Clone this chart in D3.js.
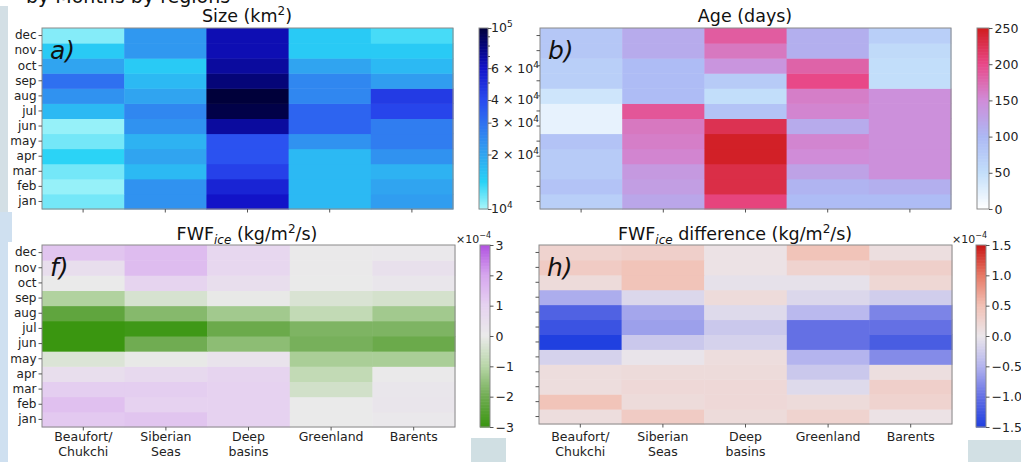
<!DOCTYPE html>
<html>
<head>
<meta charset="utf-8">
<script src="https://cdn.jsdelivr.net/npm/d3@7"></script>
<style>
  body { margin: 0; background: #fff; }
  svg { display: block; font-family: "DejaVu Sans", sans-serif; }
</style>
</head>
<body>
<script>
// months from bottom (jan) to top (dec)
const months = ['jan', 'feb', 'mar', 'apr', 'may', 'jun', 'jul', 'aug', 'sep', 'oct', 'nov', 'dec'];
const regions = ['Beaufort/\nChukchi', 'Siberian\nSeas', 'Deep\nbasins', 'Greenland', 'Barents'];

// a) size (km2), one row per month, columns = regions
const sizeVals = [
  [11500, 23000, 60000, 17000, 21000],
  [10500, 23000, 53000, 17000, 20000],
  [11500, 17000, 43000, 17000, 18000],
  [14000, 20000, 38000, 17000, 23000],
  [11500, 18000, 38000, 23000, 27000],
  [10500, 23000, 70000, 33000, 27000],
  [17000, 25000, 95000, 33000, 42000],
  [23000, 20000, 100000, 25000, 45000],
  [30000, 17000, 80000, 25000, 21000],
  [20000, 15000, 70000, 20000, 17000],
  [15000, 22000, 65000, 15000, 15000],
  [11000, 22000, 65000, 15000, 13000]
];

// b) age (days)
const ageVals = [
  [70, 120, 205, 95, 95],
  [85, 130, 230, 105, 110],
  [75, 135, 230, 125, 145],
  [75, 155, 245, 150, 145],
  [85, 160, 245, 155, 145],
  [20, 165, 225, 115, 145],
  [20, 190, 85, 155, 145],
  [40, 95, 50, 160, 145],
  [70, 95, 75, 200, 50],
  [70, 95, 140, 180, 50],
  [80, 115, 165, 110, 55],
  [80, 115, 185, 110, 70]
];

// f) FWF ice (x1e-4 kg/m2/s)
const fwfVals = [
  [1.2, 1.3, 1.0, 0, 0.1],
  [1.4, 1.0, 1.0, 0, 0.2],
  [1.1, 1.1, 1.0, -0.5, 0.15],
  [0.5, 0.7, 0.9, -0.8, 0.05],
  [-0.3, -0.05, 0.3, -1.2, -1.2],
  [-3, -2.0, -1.6, -1.9, -2.1],
  [-3, -2.9, -2.1, -1.8, -1.8],
  [-2.3, -1.7, -1.3, -0.8, -1.3],
  [-1.1, -0.4, -0.05, -0.35, -0.45],
  [0, 0.9, 0.5, 0, 0.15],
  [0.5, 1.5, 0.8, 0.05, 0.4],
  [1.3, 1.5, 0.8, 0.05, 0.1]
];

// h) FWF ice difference (x1e-4 kg/m2/s)
const fwfDiffVals = [
  [0.12, 0.35, 0.15, 0.25, 0.05],
  [0.45, 0.15, 0.18, 0.15, 0.25],
  [0.12, 0.18, 0.18, -0.12, 0.3],
  [0.12, 0.15, 0.15, -0.3, 0.1],
  [-0.2, -0.02, 0.12, -0.5, -0.8],
  [-1.5, -0.3, -0.2, -1.0, -1.2],
  [-1.3, -0.65, -0.3, -1.0, -1.0],
  [-1.15, -0.6, -0.12, -0.45, -0.85],
  [-0.55, -0.15, 0.15, -0.15, -0.25],
  [0.15, 0.45, -0.05, -0.05, 0.2],
  [0.35, 0.45, 0.05, 0.25, 0.3],
  [0.25, 0.3, 0.05, 0.45, 0.1]
];

const sizeTicks = [10000, 20000, 30000, 40000, 60000, 100000];
const sizeTickLabels = [['', '10', '4'], ['2 × ', '10', '4'], ['3 × ', '10', '4'], ['4 × ', '10', '4'], ['6 × ', '10', '4'], ['', '10', '5']];
const sizeMinor = [50000, 70000, 80000, 90000];
const ageTicks = [0, 50, 100, 150, 200, 250];
const fwfTicks = [-3, -2, -1, 0, 1, 2, 3];
const diffTicks = [-1.5, -1.0, -0.5, 0.0, 0.5, 1.0, 1.5];

const width = 1021, height = 462;

const svg = d3.select('body').append('svg')
  .attr('width', width)
  .attr('height', height);

// fond : bandes de la capture
svg.append('rect').attr('x', 0).attr('y', 6).attr('width', 8).attr('height', 208).attr('fill', '#d3dfe5');
svg.append('rect').attr('x', 0).attr('y', 212).attr('width', 8).attr('height', 250).attr('fill', '#cfe0f0');
svg.append('rect').attr('x', 8).attr('y', 212).attr('width', 4).attr('height', 30).attr('fill', '#cfe0f0');
svg.append('rect').attr('x', 471).attr('y', 438).attr('width', 35).attr('height', 24).attr('fill', '#d0dfe3');
svg.append('rect').attr('x', 968).attr('y', 440).attr('width', 53).attr('height', 22).attr('fill', '#d2e0e4');

// texte coupé en haut (comme sur la capture)
svg.append('text')
  .attr('x', 26).attr('y', 3)
  .attr('font-size', 19)
  .attr('fill', '#111')
  .text('by Months by regions');

// échelles de couleur
const sizeT = d3.scaleLog().domain([1e4, 1e5]).range([0, 1]);
const sizeRamp = d3.scaleLinear()
  .domain([0, 0.15, 0.3, 0.45, 0.6, 0.78, 0.9, 1])
  .range(['#a8f6fa', '#28d2f6', '#30a4f0', '#3078f0', '#2a4cf0', '#1212c8', '#05057a', '#00003a']);
const sizeColor = v => sizeRamp(sizeT(v));

const ageColor = d3.scaleLinear()
  .domain([0, 50, 100, 150, 200, 250])
  .range(['#ffffff', '#c2defa', '#acb8f4', '#d08cd8', '#e84888', '#d01c1c'])
  .clamp(true);

const fwfColor = d3.scaleLinear()
  .domain([-3, -2, -1, 0, 1, 2, 3])
  .range(['#3a9610', '#70ac52', '#b8d6a8', '#eaeaea', '#e6d2f0', '#d6a6ee', '#b050e0'])
  .clamp(true);

const diffColor = d3.scaleLinear()
  .domain([-1.5, -1, -0.5, 0, 0.5, 1, 1.5])
  .range(['#2040e0', '#6470e4', '#b4b4ee', '#ebe6ea', '#f2c0b4', '#e67864', '#c81414'])
  .clamp(true);

const panels = [
  { vals: sizeVals, color: sizeColor, x0: 42, x1: 453, y0: 28, y1: 209, label: 'a)', yLabels: true, xLabels: false,
    cb: { x: 479, w: 9, y0: 28, y1: 209, scale: d3.scaleLog().domain([1e4, 1e5]), ticks: sizeTicks, labels: sizeTickLabels, minor: sizeMinor } },
  { vals: ageVals, color: ageColor, x0: 540, x1: 951, y0: 28, y1: 209, label: 'b)', yLabels: false, xLabels: false,
    cb: { x: 977, w: 12, y0: 28, y1: 209, scale: d3.scaleLinear().domain([0, 250]), ticks: ageTicks, fmt: d => d } },
  { vals: fwfVals, color: fwfColor, x0: 42, x1: 455, y0: 245, y1: 427, label: 'f)', yLabels: true, xLabels: true,
    cb: { x: 480, w: 10, y0: 245, y1: 427, scale: d3.scaleLinear().domain([-3, 3]), ticks: fwfTicks, fmt: d => d3.format('d')(d).replace('-', '\u2212'), exp: true } },
  { vals: fwfDiffVals, color: diffColor, x0: 539, x1: 952, y0: 245, y1: 424, label: 'h)', yLabels: false, xLabels: true,
    cb: { x: 976, w: 10, y0: 245, y1: 427, scale: d3.scaleLinear().domain([-1.5, 1.5]), ticks: diffTicks, fmt: d => d3.format('.1f')(d).replace('-', '\u2212'), exp: true } }
];

function drawPanel(p) {
  const g = svg.append('g');

  const x = d3.scaleBand().domain(d3.range(regions.length)).range([p.x0, p.x1]);
  const y = d3.scaleBand().domain(months).range([p.y1, p.y0]);

  const cells = [];
  p.vals.forEach((row, i) => row.forEach((v, j) => cells.push({ m: months[i], r: j, v })));

  g.selectAll('rect.cell')
    .data(cells)
    .join('rect')
      .attr('class', 'cell')
      .attr('x', d => x(d.r))
      .attr('y', d => y(d.m))
      .attr('width', x.bandwidth() + 0.5)
      .attr('height', y.bandwidth() + 0.5)
      .attr('fill', d => p.color(d.v));

  // cadre
  g.append('rect')
    .attr('x', p.x0).attr('y', p.y0)
    .attr('width', p.x1 - p.x0).attr('height', p.y1 - p.y0)
    .attr('fill', 'none').attr('stroke', '#8a8a8a').attr('stroke-width', 1);

  // axe vertical
  g.append('g')
    .attr('transform', `translate(${p.x0}, 0)`)
    .call(d3.axisLeft(y).tickSize(3.5).tickPadding(2).tickFormat(p.yLabels ? d => d : ''))
    .call(a => a.select('.domain').remove())
    .call(a => a.selectAll('line').attr('stroke', '#555'))
    .call(a => a.selectAll('text').attr('font-size', 12).attr('fill', '#222').attr('font-family', 'DejaVu Sans'));

  // axe horizontal
  g.append('g')
    .attr('transform', `translate(0, ${p.y1})`)
    .call(d3.axisBottom(x).tickSize(3.5).tickFormat(''))
    .call(a => a.select('.domain').remove())
    .call(a => a.selectAll('line').attr('stroke', '#555'));

  if (p.xLabels) {
    const lab = g.append('g').attr('font-size', 12.5).attr('fill', '#222').attr('text-anchor', 'middle');
    regions.forEach((r, j) => {
      const t = lab.append('text').attr('x', x(j) + x.bandwidth() / 2).attr('y', 441);
      r.split('\n').forEach((line, k) => {
        t.append('tspan').attr('x', x(j) + x.bandwidth() / 2).attr('dy', k ? 15 : 0).text(line);
      });
    });
  }

  // lettre du panneau
  g.append('text')
    .attr('x', p.x0 + 8).attr('y', p.y0 + 31)
    .attr('font-size', 25)
    .attr('font-style', 'italic')
    .attr('fill', '#111')
    .text(p.label);

  drawColorbar(p);
}

function drawColorbar(p) {
  const cb = p.cb;
  const g = svg.append('g');
  const s = cb.scale.copy().range([cb.y1, cb.y0]);
  const n = 120;
  const dom = s.domain();
  const steps = d3.range(n).map(i => {
    const t = i / n;
    return cb.minor ? Math.pow(10, Math.log10(dom[0]) + t * (Math.log10(dom[1]) - Math.log10(dom[0])))
                    : dom[0] + t * (dom[1] - dom[0]);
  });
  const next = i => i + 1 < n ? steps[i + 1] : dom[1];

  g.selectAll('rect')
    .data(steps)
    .join('rect')
      .attr('x', cb.x)
      .attr('width', cb.w)
      .attr('y', (d, i) => s(next(i)))
      .attr('height', (d, i) => s(d) - s(next(i)) + 0.6)
      .attr('fill', d => p.color(d));

  g.append('rect')
    .attr('x', cb.x).attr('y', cb.y0).attr('width', cb.w).attr('height', cb.y1 - cb.y0)
    .attr('fill', 'none').attr('stroke', '#8a8a8a').attr('stroke-width', 1);

  const ax = g.append('g').attr('transform', `translate(${cb.x + cb.w}, 0)`);
  if (cb.minor) {
    ax.call(d3.axisRight(s).tickValues(cb.minor).tickSize(2).tickFormat(''))
      .call(a => a.select('.domain').remove())
      .call(a => a.selectAll('line').attr('stroke', '#555'));
    const ax2 = g.append('g').attr('transform', `translate(${cb.x + cb.w}, 0)`);
    ax2.call(d3.axisRight(s).tickValues(cb.ticks).tickSize(3.5).tickFormat(''))
      .call(a => a.select('.domain').remove())
      .call(a => a.selectAll('line').attr('stroke', '#555'));
    const lab = g.append('g').attr('font-size', 12.5).attr('fill', '#222');
    cb.ticks.forEach((v, i) => {
      const [pre, base, sup] = cb.labels[i];
      const t = lab.append('text').attr('x', cb.x + cb.w + 3).attr('y', s(v)).attr('dy', '0.35em');
      t.append('tspan').text(pre + base);
      t.append('tspan').attr('font-size', 9).attr('dy', -5).text(sup);
    });
  } else {
    ax.call(d3.axisRight(s).tickValues(cb.ticks).tickSize(3.5).tickPadding(2).tickFormat(cb.fmt))
      .call(a => a.select('.domain').remove())
      .call(a => a.selectAll('line').attr('stroke', '#555'))
      .call(a => a.selectAll('text').attr('font-size', 12.5).attr('fill', '#222').attr('font-family', 'DejaVu Sans'));
  }

  if (cb.exp) {
    const t = g.append('text')
      .attr('x', cb.x + cb.w + 1).attr('y', cb.y0 - 2)
      .attr('text-anchor', 'end')
      .attr('font-size', 11).attr('fill', '#222');
    t.append('tspan').text('×10');
    t.append('tspan').attr('font-size', 8).attr('dy', -5).text('\u22124');
  }
}

panels.forEach(drawPanel);

// titres
function title(cx, y, parts) {
  const t = svg.append('text')
    .attr('x', cx).attr('y', y)
    .attr('text-anchor', 'middle')
    .attr('font-size', 17.5)
    .attr('fill', '#111');
  parts.forEach(pt => {
    const sp = t.append('tspan').text(pt.t);
    if (pt.sup) sp.attr('font-size', 12).attr('dy', -7);
    if (pt.sub) sp.attr('font-size', 12).attr('font-style', 'italic').attr('dy', 4);
    if (pt.back) sp.attr('dy', pt.back);
  });
}

title(247, 22, [{ t: 'Size (km' }, { t: '2', sup: true }, { t: ')', back: 7 }]);
title(745, 22, [{ t: 'Age (days)' }]);
title(247, 240, [{ t: 'FWF' }, { t: 'ice', sub: true }, { t: ' (kg/m', back: -4 }, { t: '2', sup: true }, { t: '/s)', back: 7 }]);
title(735, 240, [{ t: 'FWF' }, { t: 'ice', sub: true }, { t: ' difference (kg/m', back: -4 }, { t: '2', sup: true }, { t: '/s)', back: 7 }]);
</script>
</body>
</html>
